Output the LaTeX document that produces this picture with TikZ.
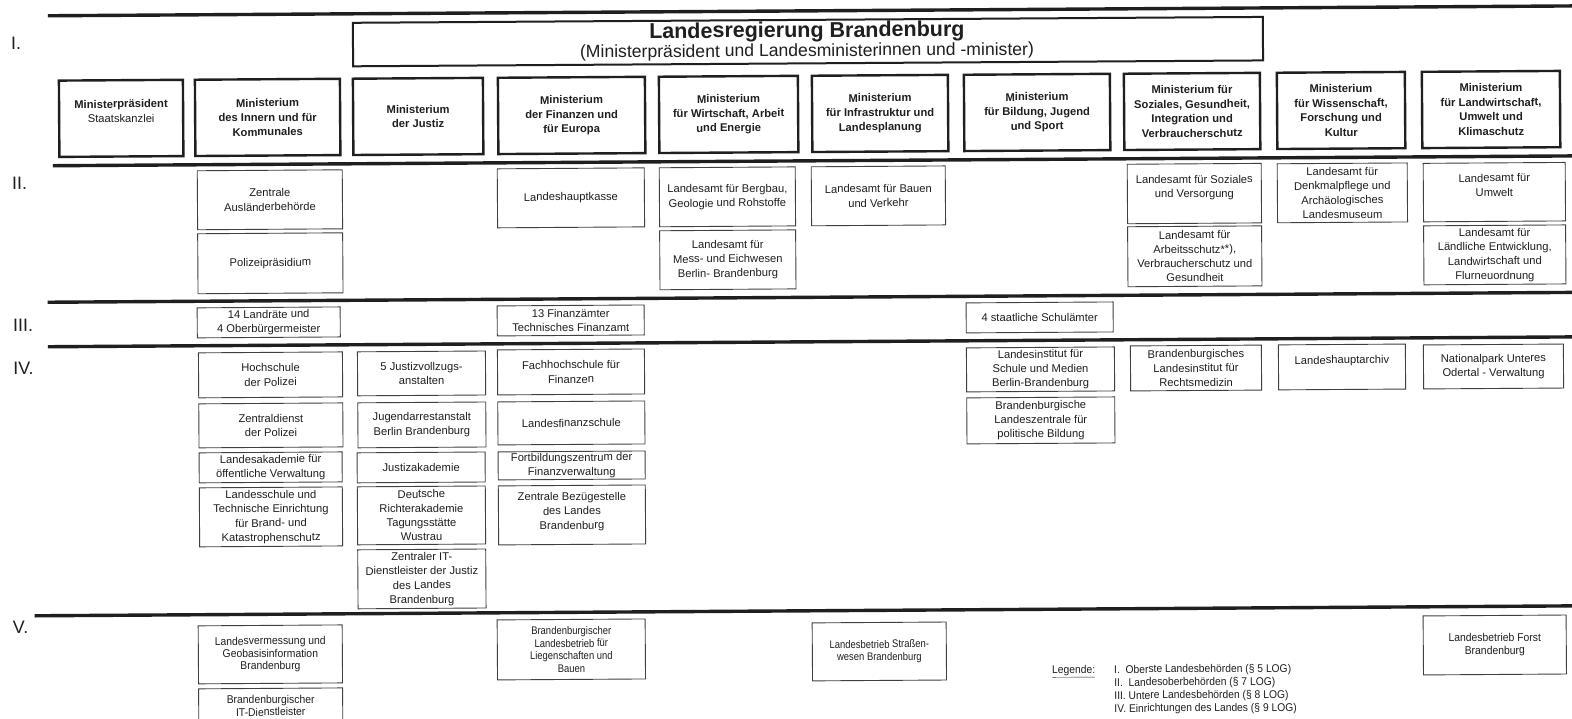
\documentclass[tikz,border=0pt]{standalone}
\usepackage{fontspec}
\setmainfont{Liberation Sans}
\newfontfamily\narrowf[FakeStretch=0.86]{Liberation Sans}
\newfontfamily\semif[FakeStretch=0.92]{Liberation Sans}
\definecolor{ink}{gray}{0.12}
\definecolor{thin}{gray}{0.25}
\newcommand\bx[7][box]{\node[#1, anchor=north west, minimum width={(#5-#3)*1pt}, minimum height={(#6-#4)*1pt}] (#2) at (#3,#4) {#7};}
\tikzset{
  sepline/.style={line width=3.4pt, draw=ink},
  mbox/.style={draw=ink, line width=2.4pt, text=ink, font=\fontsize{11.2}{14.5}\selectfont\bfseries, align=center, inner sep=0pt},
  box/.style={draw=thin, line width=0.9pt, text=ink, font=\fontsize{11.2}{14.3}\selectfont, align=center, inner sep=0pt},
  vbox/.style={box, font=\narrowf\fontsize{11}{12.5}\selectfont},
  wbox/.style={box, font=\semif\fontsize{11.3}{12.5}\selectfont},
  lvl/.style={font=\fontsize{18}{18}\selectfont, text=ink, anchor=west, inner sep=0pt},
  legf/.style={font=\semif\fontsize{11.2}{13}\selectfont, text=ink, anchor=north west, inner sep=0pt},
}
\begin{document}
\begin{tikzpicture}[x=1pt, y=-1pt]
\useasboundingbox (0,0) rectangle (1572,718);
\clip (0,0) rectangle (1572,718);
\fill[white] (0,0) rectangle (1572,718);
\begin{scope}[rotate around={0.37:(786,359)}, transform shape]
% separator lines
\coordinate (l0a) at (50,11);   \coordinate (l0b) at (1610,11);
\coordinate (l1a) at (54,161);  \coordinate (l1b) at (1610,161);
\coordinate (l2a) at (48,297.5);\coordinate (l2b) at (1610,297.5);
\coordinate (l3a) at (48,342);  \coordinate (l3b) at (1610,342);
\coordinate (l4a) at (33,611);  \coordinate (l4b) at (1610,611);
\draw[sepline] (l0a) -- (l0b);
\draw[sepline] (l1a) -- (l1b);
\draw[sepline] (l2a) -- (l2b);
\draw[sepline] (l3a) -- (l3b);
\draw[sepline] (l4a) -- (l4b);
% level labels
\node[lvl] (n1) at (13,38) {I.};
\node[lvl] (n2) at (13,178) {II.};
\node[lvl] (n3) at (13,320) {III.};
\node[lvl] (n4) at (13,363) {IV.};
\node[lvl] (n5) at (11,622) {V.};
% Landesregierung
\bx[box, draw=ink, line width=2pt]{lr}{354}{19}{1264}{62.5}{}
\node[font=\fontsize{21.5}{21.5}\selectfont\bfseries, text=ink, inner sep=0pt] (lrt) at (809,32) {Landesregierung Brandenburg};
\node[font=\fontsize{17.6}{17.6}\selectfont, text=ink, inner sep=0pt] (lrs) at (809,52) {(Ministerpräsident und Landesministerinnen und -minister)};
% ministries
\bx[mbox]{m1}{59.5}{74.7}{183.5}{151}{Ministerpräsident\\\mdseries Staatskanzlei\\~}
\bx[mbox]{m2}{195.5}{74.7}{340.5}{151}{Ministerium\\des Innern und für\\Kommunales}
\bx[mbox]{m3}{353.5}{74.7}{483.5}{151}{Ministerium\\der Justiz}
\bx[mbox]{m4}{498.5}{74.7}{645.5}{151}{Ministerium\\der Finanzen und\\für Europa}
\bx[mbox]{m5}{659.5}{74.7}{798.5}{151}{Ministerium\\für Wirtschaft, Arbeit\\und Energie}
\bx[mbox]{m6}{812.5}{74.7}{948.5}{151}{Ministerium\\für Infrastruktur und\\Landesplanung}
\bx[mbox]{m7}{964.5}{74.7}{1110.5}{151}{Ministerium\\für Bildung, Jugend\\und Sport}
\bx[mbox]{m8}{1124.5}{74.7}{1260.5}{151}{Ministerium für\\Soziales, Gesundheit,\\Integration und\\Verbraucherschutz}
\bx[mbox]{m9}{1277.5}{74.7}{1405.5}{151}{Ministerium\\für Wissenschaft,\\Forschung und\\Kultur}
\bx[mbox]{m10}{1422.5}{74.7}{1560.5}{151}{Ministerium\\für Landwirtschaft,\\Umwelt und\\Klimaschutz}
% level II
\bx{zab}{198}{166.5}{343}{225.5}{Zentrale\\Ausländerbehörde}
\bx{pol}{198}{229.5}{343}{289.5}{Polizeipräsidium}
\bx{lhk}{498}{166.5}{645}{225.5}{Landeshauptkasse}
\bx{lbgr}{660}{166.5}{796}{225.5}{Landesamt für Bergbau,\\Geologie und Rohstoffe}
\bx{lme}{660}{229.5}{796}{288.5}{Landesamt für\\Mess- und Eichwesen\\Berlin- Brandenburg}
\bx{lbv}{812}{166.5}{946}{225.5}{Landesamt für Bauen\\und Verkehr}
\bx{lasv}{1128}{166}{1262}{225.5}{Landesamt für Soziales\\und Versorgung\\~}
\bx{lavg}{1128}{228.5}{1262}{288.5}{Landesamt für\\Arbeitsschutz**),\\Verbraucherschutz und\\Gesundheit}
\bx{bldam}{1278}{166.5}{1408}{225.5}{Landesamt für\\Denkmalpflege und\\Archäologisches\\Landesmuseum}
\bx{lfu}{1424}{167}{1566}{225.5}{Landesamt für\\Umwelt\\~}
\bx{lelf}{1424}{229.5}{1566}{288.5}{Landesamt für\\Ländliche Entwicklung,\\Landwirtschaft und\\Flurneuordnung}
% level III
\bx{lr14}{197}{303.6}{340}{333.6}{14 Landräte und\\4 Oberbürgermeister}
\bx{fa13}{497}{303.6}{644}{333.6}{13 Finanzämter\\Technisches Finanzamt}
\bx{ssa}{966}{303.6}{1113}{333.6}{4 staatliche Schulämter}
% level IV
\bx{hpol}{198}{348.6}{342}{393.6}{Hochschule\\der Polizei}
\bx{jva}{357}{348.6}{485}{392.6}{5 Justizvollzugs-\\anstalten}
\bx{fhf}{497}{347.6}{644}{392.6}{Fachhochschule für\\Finanzen}
\bx{lisum}{966}{348.6}{1114}{392.6}{Landesinstitut für\\Schule und Medien\\Berlin-Brandenburg}
\bx{blr}{1130}{347.7}{1261}{392.7}{Brandenburgisches\\Landesinstitut für\\Rechtsmedizin}
\bx{blha}{1278}{347.6}{1405}{392.6}{Landeshauptarchiv\\~}
\bx{npuo}{1423}{348.6}{1563}{392.6}{Nationalpark Unteres\\Odertal - Verwaltung}
\bx{zdpol}{198}{399.6}{342}{443.6}{Zentraldienst\\der Polizei}
\bx{jaa}{357}{399.6}{485}{444.6}{Jugendarrestanstalt\\Berlin Brandenburg}
\bx{lfs}{497}{399.6}{644}{442.6}{Landesfinanzschule}
\bx{blzpb}{966}{398.6}{1114}{444.6}{Brandenburgische\\Landeszentrale für\\politische Bildung}
\bx{laoev}{198}{448.6}{341}{478.6}{Landesakademie für\\öffentliche Verwaltung}
\bx{jak}{356}{449.6}{484}{479.6}{Justizakademie}
\bx{fbz}{497}{449.6}{644}{477.6}{Fortbildungszentrum der\\Finanzverwaltung}
\bx{lste}{198}{483.6}{341}{542.6}{Landesschule und\\Technische Einrichtung\\für Brand- und\\Katastrophenschutz}
\bx{dra}{356}{483.6}{484}{541.6}{Deutsche\\Richterakademie\\Tagungsstätte\\Wustrau}
\bx{zbs}{497}{483.6}{644}{542.6}{Zentrale Bezügestelle\\des Landes\\Brandenburg\\[-6pt]~}
\bx{zitj}{356}{546.6}{484}{605.6}{Zentraler IT-\\Dienstleister der Justiz\\des Landes\\Brandenburg}
% level V
\bx[wbox]{lgb}{196}{621.6}{340}{679.6}{Landesvermessung und\\Geobasisinformation\\Brandenburg}
\bx[wbox]{itd}{196}{684.6}{340}{744}{Brandenburgischer\\IT-Dienstleister\\~\\~}
\bx[vbox]{blb}{495}{617.6}{643}{677.6}{Brandenburgischer\\Landesbetrieb für\\Liegenschaften und\\Bauen}
\bx[vbox]{ls}{810}{622.6}{944}{680.6}{Landesbetrieb Straßen-\\wesen Brandenburg}
\bx[wbox]{lfb}{1421}{619.6}{1564}{678.6}{Landesbetrieb Forst\\Brandenburg}
% legend
\node[legf] (leg) at (1050,667) {\underline{Legende:}};
\node[legf, align=left] (legt) at (1112,667) {I.\ \ Oberste Landesbehörden (§ 5 LOG)\\II.\ \ Landesoberbehörden (§ 7 LOG)\\III. Untere Landesbehörden (§ 8 LOG)\\IV. Einrichtungen des Landes (§ 9 LOG)};
\end{scope}
\end{tikzpicture}
\end{document}
